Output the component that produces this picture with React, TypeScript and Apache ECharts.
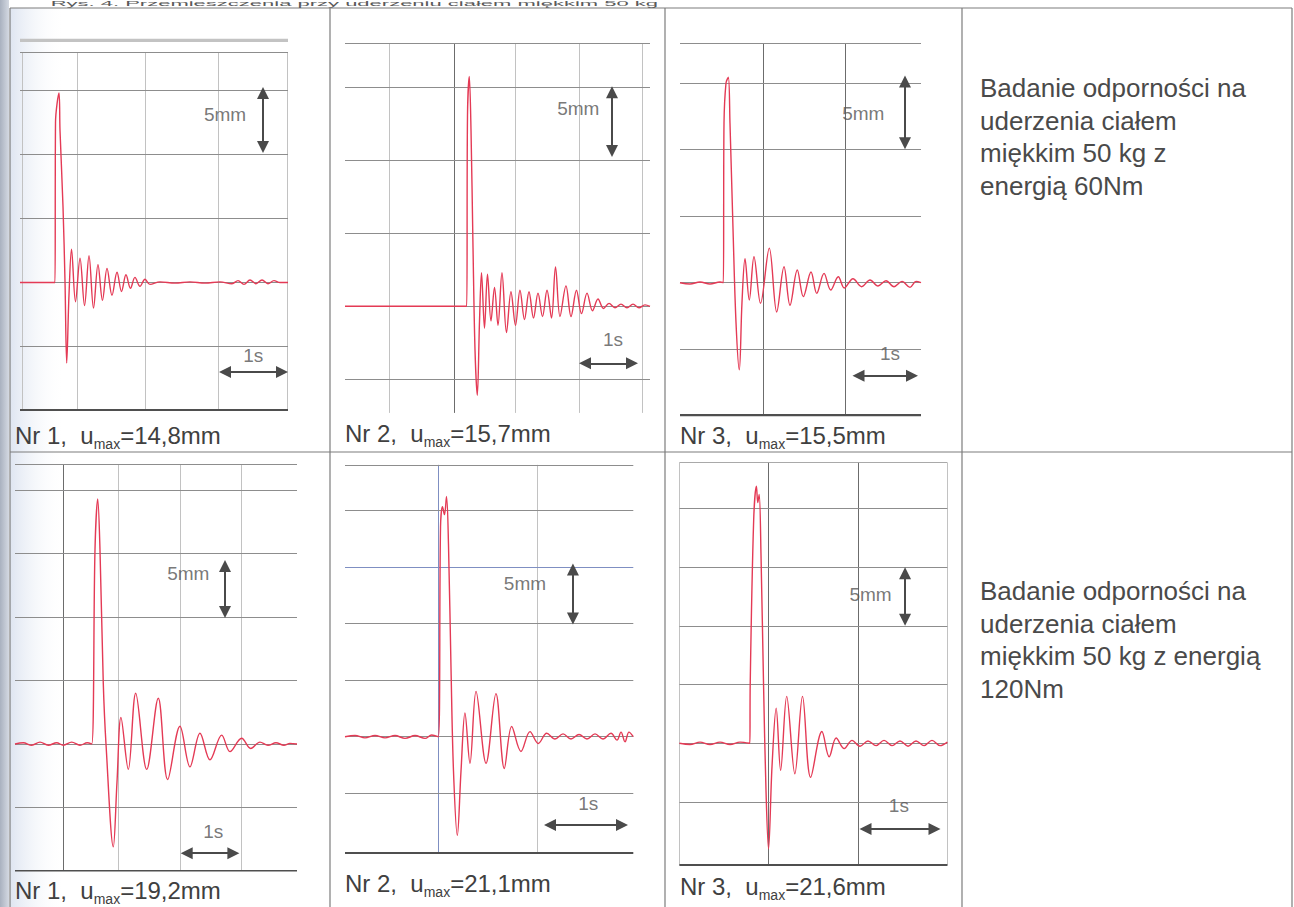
import React, { useEffect, useRef } from 'react';
import * as echarts from 'echarts';

type Pair = [number, number];

const FONT = '"Liberation Sans", Arial, sans-serif';

// ---------- texts ----------
const TITLE = 'Rys. 4. Przemieszczenia przy uderzeniu ciałem miękkim 50 kg';
const TEST_NO = ['Nr 1,', 'Nr 2,', 'Nr 3,', 'Nr 1,', 'Nr 2,', 'Nr 3,'];
const UMAX_MM = ['14,8', '15,7', '15,5', '19,2', '21,1', '21,6'];
const DESC_60 = ['Badanie odporności na', 'uderzenia ciałem', 'miękkim 50 kg z', 'energią 60Nm'];
const DESC_120 = ['Badanie odporności na', 'uderzenia ciałem', 'miękkim 50 kg z energią', '120Nm'];
const SCALE_LABELS = ['5mm', '1s'];

// ---------- traces: [time s, displacement mm] ----------
const trace1: Pair[] = [
  [0, 0], [0.522, 0], [0.53, 12.5], [0.582, 14.8], [0.597, 11.9], [0.642, 5.9], [0.672, 0], [0.697, -6.3],
  [0.731, -1.0], [0.769, 2.6], [0.828, -1.5], [0.896, 1.9], [0.963, -1.8], [1.03, 2.1], [1.097, -2.0],
  [1.164, 1.4], [1.231, -1.4], [1.299, 1.1], [1.373, -1.0], [1.448, 0.8], [1.515, -0.7], [1.582, 0.6],
  [1.649, -0.45], [1.716, 0.4], [1.791, -0.3], [1.866, 0.25], [1.94, -0.15], [2.09, 0.05], [2.313, -0.05],
  [2.537, 0.05], [2.761, -0.05], [2.985, 0.05], [3.164, -0.1], [3.254, 0.15], [3.343, -0.15], [3.433, 0.2],
  [3.522, -0.1], [3.612, 0.2], [3.701, -0.1], [3.791, 0.15], [3.881, 0], [4.0, 0],
];
const trace2: Pair[] = [
  [0, 0], [2.135, 0], [2.149, 13], [2.181, 15.75], [2.211, 12], [2.246, 4], [2.281, -3], [2.321, -6.1],
  [2.36, -1], [2.395, 2.3], [2.447, -1.5], [2.5, 2.2], [2.561, -1.0], [2.623, 1.3], [2.684, -1.3], [2.754, 2.3],
  [2.833, -1.8], [2.912, 1.0], [2.991, -1.3], [3.07, 1.1], [3.149, -0.9], [3.228, 1.0], [3.307, -0.8],
  [3.386, 0.9], [3.465, -0.7], [3.544, 1.1], [3.623, -0.8], [3.693, 2.7], [3.772, -0.7], [3.877, 1.4],
  [3.965, -0.7], [4.061, 1.1], [4.149, -0.5], [4.246, 0.9], [4.342, -0.3], [4.439, 0.5], [4.535, -0.15],
  [4.632, 0.2], [4.737, -0.1], [4.842, 0.15], [4.947, -0.1], [5.053, 0.15], [5.158, -0.1], [5.263, 0.1], [5.351, 0],
];
const trace3: Pair[] = [
  [0, 0], [0.157, -0.1], [0.315, 0.05], [0.472, -0.1], [0.63, 0.05], [0.682, 0], [0.693, 12], [0.724, 15.0],
  [0.761, 15.45], [0.787, 12], [0.835, 4], [0.882, -3], [0.934, -6.55], [0.976, -1.5], [1.024, 1.8],
  [1.091, -1.3], [1.165, 1.95], [1.268, -1.55], [1.406, 2.6], [1.523, -2.2], [1.638, 1.2], [1.732, -1.7],
  [1.847, 0.95], [1.942, -1.05], [2.063, 0.8], [2.153, -0.8], [2.268, 0.7], [2.373, -0.55], [2.493, 0.45],
  [2.587, -0.4], [2.724, 0.3], [2.861, -0.3], [2.992, 0.2], [3.118, -0.25], [3.244, 0.15], [3.37, -0.3],
  [3.496, 0.1], [3.622, -0.35], [3.717, 0.1], [3.795, 0],
];
const trace4: Pair[] = [
  [0, 0], [0.146, 0.1], [0.295, -0.1], [0.441, 0.15], [0.587, -0.1], [0.735, 0.1], [0.852, -0.1], [1.0, 0.15],
  [1.146, -0.1], [1.275, 0.1], [1.353, 0], [1.411, 15.3], [1.459, 19.3], [1.499, 15.3], [1.557, 4.8],
  [1.605, 0], [1.734, -8.1], [1.799, -3], [1.869, 2.1], [1.998, -2.0], [2.129, 4.0], [2.323, -2.0],
  [2.527, 3.6], [2.693, -2.8], [2.91, 1.4], [3.086, -1.8], [3.263, 0.85], [3.439, -1.25], [3.646, 0.7],
  [3.792, -0.6], [3.998, 0.45], [4.157, -0.35], [4.321, 0.15], [4.462, -0.1], [4.603, 0.1], [4.744, -0.1],
  [4.85, 0.05], [4.974, 0],
];
const trace5: Pair[] = [
  [0, 0], [0.122, 0.1], [0.244, -0.1], [0.366, 0.1], [0.488, -0.1], [0.61, 0.1], [0.732, -0.15], [0.854, 0.1],
  [0.976, -0.15], [1.057, 0.15], [1.138, 0], [1.165, 18.5], [1.189, 20.3], [1.213, 19.6], [1.238, 21.2],
  [1.262, 17], [1.293, 6], [1.323, -3], [1.37, -8.7], [1.415, -3], [1.463, 2.1], [1.524, -2.35], [1.598, 4.0],
  [1.72, -2.35], [1.841, 3.8], [1.943, -2.8], [2.033, 0.9], [2.146, -1.3], [2.256, 0.45], [2.357, -0.6],
  [2.46, 0.3], [2.561, -0.2], [2.659, 0.25], [2.756, -0.2], [2.854, 0.2], [2.951, -0.2], [3.049, 0.25],
  [3.146, -0.2], [3.244, 0.3], [3.317, -0.3], [3.366, 0.4], [3.415, -0.45], [3.463, 0.4], [3.516, 0],
];
const trace6: Pair[] = [
  [0, 0], [0.134, -0.1], [0.261, 0.1], [0.387, -0.1], [0.514, 0.1], [0.641, -0.1], [0.767, 0.1], [0.892, 0],
  [0.896, 4.9], [0.94, 19], [0.975, 21.9], [0.992, 20.5], [1.01, 21.2], [1.033, 16], [1.065, 5], [1.096, -4],
  [1.128, -9.0], [1.172, -2], [1.225, 3.0], [1.281, -2.3], [1.358, 4.0], [1.461, -2.6], [1.558, 4.0],
  [1.661, -2.9], [1.804, 1.0], [1.896, -1.15], [1.984, 0.45], [2.086, -0.45], [2.185, 0.25], [2.286, -0.25],
  [2.387, 0.2], [2.489, -0.2], [2.59, 0.25], [2.692, -0.2], [2.792, 0.2], [2.894, -0.25], [2.995, 0.2],
  [3.096, -0.2], [3.197, 0.25], [3.299, -0.2], [3.392, 0.1],
];

// ---------- axis extents ----------
const xMax = [4.0, 5.351, 3.795, 4.974, 3.516, 3.392];
const yMin = [-10, -7.3, -10, -10, -10.3, -10.4];
const yMax = [19, 18, 18, 22, 24, 23.9];

// ---------- grid lines (mm / s) ----------
const hLines1 = [18, 15, 10, 5, 0, -5];
const hLines2 = [18, 15, 10, 5, 0, -5];
const hLines3 = [18, 15, 10, 5, 0, -5];
const hLines4 = [22, 20, 15, 10, 5, 0, -5];
const hLines5 = [24, 20, 15, 10, 5, 0, -5];
const hLines6 = [23.9, 20, 15, 10, 5, 0, -5];
const vLines1 = [0.03, 0.85, 1.87, 2.96, 3.99];
const vLines2 = [0.772, 1.912, 2.982, 4.105, 5.211];
const vLines3 = [1.307, 2.609];
const vLines4 = [0.852, 1.822, 2.91, 3.998];
const vLines5 = [1.138, 2.345];
const vLines6 = [0, 1.128, 2.266, 3.392];
const darkV = [[], [1.912], [1.307, 2.609], [0.852], [1.138], [1.128, 2.266]];
const blueH = [[], [], [], [], [15], []];
const hasBaseAxis = [true, false, true, true, true, true];

// ---------- scale markers: 5mm [t, yFrom, yTo], 1s [y, tFrom, tTo] ----------
const mmBar: [number, number, number][] = [
  [3.627, 15.2, 10.2], [4.684, 15.0, 10.3], [3.543, 15.5, 10.1],
  [3.704, 14.4, 10.0], [2.78, 15.2, 10.0], [2.856, 14.9, 10.1],
];
const secBar: [number, number, number][] = [
  [-7.0, 2.985, 3.985], [-3.9, 4.123, 5.123], [-7.0, 2.732, 3.732],
  [-8.6, 2.94, 3.94], [-7.8, 2.439, 3.439], [-7.3, 2.292, 3.292],
];
const mmLabelAt: Pair[] = [[3.06, 13.1], [4.093, 13.56], [2.887, 12.7], [3.056, 13.4], [2.195, 13.5], [2.419, 12.7]];
const secLabelAt: Pair[] = [[3.48, -5.7], [4.702, -2.3], [3.307, -5.3], [3.497, -6.9], [2.967, -5.9], [2.778, -5.3]];

const TRACES = [trace1, trace2, trace3, trace4, trace5, trace6];
const HLINES = [hLines1, hLines2, hLines3, hLines4, hLines5, hLines6];
const VLINES = [vLines1, vLines2, vLines3, vLines4, vLines5, vLines6];

// ---------- layout (pixels) ----------
const BOXES = [
  { left: 20, top: 39.3, width: 268, height: 371.2 },
  { left: 345, top: 43.5, width: 305, height: 369.4 },
  { left: 680, top: 43.3, width: 241, height: 372.4 },
  { left: 15, top: 464.6, width: 282, height: 406.4 },
  { left: 345, top: 464.8, width: 288.3, height: 388.6 },
  { left: 679.4, top: 462.7, width: 268, height: 402.7 },
];
const CAPTION_POS: Pair[] = [[15, 435], [345, 433], [680, 435], [15, 890], [345, 883], [680, 886]];

const RED = '#e43a55';
const GRID_COL = '#8d8d8d';
const VGRID_COL = '#c2c2c2';
const DARK_COL = '#6c6c6c';
const BLUE_COL = '#7f8fc2';
const ARROW_COL = '#4a4a4a';
const TEXT_COL = '#404040';
const BORDER = '#7c7c7c';

function buildOption() {
  const grids: any[] = [];
  const xAxes: any[] = [];
  const yAxes: any[] = [];
  const series: any[] = [];

  TRACES.forEach((trace, i) => {
    const box = BOXES[i];
    const x0 = 0;
    const x1 = xMax[i];
    const y0 = yMin[i];
    const y1 = yMax[i];
    grids.push({ ...box, containLabel: false });
    xAxes.push({ type: 'value', gridIndex: i, min: x0, max: x1, show: false });
    yAxes.push({ type: 'value', gridIndex: i, min: y0, max: y1, show: false });

    const hTop = Math.max(...HLINES[i]);
    const gridData: any[] = [];
    VLINES[i].forEach((t) => {
      const dark = darkV[i].includes(t);
      gridData.push({
        coords: [[t, y0], [t, hTop]],
        lineStyle: { color: dark ? (i === 4 ? BLUE_COL : DARK_COL) : VGRID_COL, width: 1 },
      });
    });
    HLINES[i].forEach((y) => {
      gridData.push({
        coords: [[x0, y], [x1, y]],
        lineStyle: { color: blueH[i].includes(y) ? BLUE_COL : GRID_COL, width: 1 },
      });
    });
    if (i === 0) {
      gridData.push({ coords: [[x0, y1], [x1, y1]], lineStyle: { color: '#c3c3c3', width: 4 } });
    }
    if (hasBaseAxis[i]) {
      gridData.push({ coords: [[x0, y0], [x1, y0]], lineStyle: { color: '#4f4f4f', width: 3 } });
    }
    series.push({
      type: 'lines',
      coordinateSystem: 'cartesian2d',
      xAxisIndex: i,
      yAxisIndex: i,
      silent: true,
      z: 1,
      lineStyle: { opacity: 1, width: 1, color: GRID_COL },
      data: gridData,
    });

    series.push({
      type: 'line',
      xAxisIndex: i,
      yAxisIndex: i,
      data: trace,
      showSymbol: false,
      symbol: 'none',
      smooth: 0.35,
      silent: true,
      z: 3,
      lineStyle: { color: RED, width: 1.4 },
    });

    // scale arrows; ends inset so the arrow tips land on the measured points
    const pxPerY = box.height / (y1 - y0);
    const pxPerX = box.width / (x1 - x0);
    const insetY = 5 / pxPerY;
    const insetX = 5 / pxPerX;
    const [mt, ma, mb] = mmBar[i];
    const [sy, sa, sb] = secBar[i];
    series.push({
      type: 'lines',
      coordinateSystem: 'cartesian2d',
      xAxisIndex: i,
      yAxisIndex: i,
      silent: true,
      z: 4,
      symbol: ['triangle', 'triangle'],
      symbolSize: 12,
      lineStyle: { opacity: 1, width: 2, color: ARROW_COL },
      data: [
        { coords: [[mt, ma - insetY], [mt, mb + insetY]] },
        { coords: [[sa + insetX, sy], [sb - insetX, sy]] },
      ],
    });

    series.push({
      type: 'scatter',
      xAxisIndex: i,
      yAxisIndex: i,
      silent: true,
      z: 5,
      symbolSize: 0,
      itemStyle: { color: 'rgba(0,0,0,0)' },
      label: {
        show: true,
        position: 'inside',
        formatter: '{b}',
        color: '#555555',
        fontFamily: FONT,
        fontSize: 19,
      },
      data: [
        { name: SCALE_LABELS[0], value: mmLabelAt[i] },
        { name: SCALE_LABELS[1], value: secLabelAt[i] },
      ],
    });
  });

  const line = (x1: number, y1: number, x2: number, y2: number) => ({
    type: 'line',
    silent: true,
    z: 10,
    shape: { x1, y1, x2, y2 },
    style: { stroke: BORDER, lineWidth: 1.2 },
  });

  const graphic: any[] = [
    {
      type: 'rect',
      silent: true,
      z: 0,
      shape: { x: 0, y: 0, width: 9, height: 907 },
      style: {
        fill: new echarts.graphic.LinearGradient(0, 0, 1, 0, [
          { offset: 0, color: '#a9b1bf' },
          { offset: 1, color: '#d4d9e2' },
        ]),
      },
    },
    {
      type: 'rect',
      silent: true,
      z: 0,
      shape: { x: 10, y: 8, width: 55, height: 899 },
      style: {
        fill: new echarts.graphic.LinearGradient(0, 0, 1, 0, [
          { offset: 0, color: 'rgba(196,208,230,0.55)' },
          { offset: 1, color: 'rgba(255,255,255,0)' },
        ]),
      },
    },
    line(10, 8, 1292, 8),
    line(10, 8, 10, 907),
    line(1292, 8, 1292, 907),
    line(10, 452, 1292, 452),
    line(330, 8, 330, 907),
    line(665, 8, 665, 907),
    line(962, 8, 962, 907),
    {
      // caption above the table, squeezed into the thin band above the border
      type: 'text',
      silent: true,
      z: 11,
      x: 658,
      y: 0,
      scaleY: 0.34,
      style: {
        text: TITLE,
        fontFamily: FONT,
        fontSize: 22,
        fill: '#5a5a5a',
        align: 'right',
        verticalAlign: 'top',
      },
    },
    {
      type: 'text',
      silent: true,
      z: 11,
      x: 980,
      y: 72,
      style: {
        text: DESC_60.join('\n'),
        fontFamily: FONT,
        fontSize: 26,
        lineHeight: 32.5,
        fill: '#4a4a4a',
        align: 'left',
        verticalAlign: 'top',
      },
    },
    {
      type: 'text',
      silent: true,
      z: 11,
      x: 980,
      y: 575,
      style: {
        text: DESC_120.join('\n'),
        fontFamily: FONT,
        fontSize: 26,
        lineHeight: 32.5,
        fill: '#4a4a4a',
        align: 'left',
        verticalAlign: 'top',
      },
    },
  ];

  CAPTION_POS.forEach(([cx, cy], i) => {
    graphic.push({
      type: 'text',
      silent: true,
      z: 11,
      x: cx,
      y: cy,
      style: {
        text: `{a|${TEST_NO[i]}  u}{b|max}{a|=${UMAX_MM[i]}mm}`,
        align: 'left',
        verticalAlign: 'middle',
        rich: {
          a: { fontFamily: FONT, fontSize: 24, fill: TEXT_COL, lineHeight: 32, verticalAlign: 'middle' },
          b: { fontFamily: FONT, fontSize: 14, fill: TEXT_COL, lineHeight: 14, verticalAlign: 'bottom' },
        },
      },
    });
  });

  return {
    animation: false,
    backgroundColor: '#ffffff',
    grid: grids,
    xAxis: xAxes,
    yAxis: yAxes,
    series,
    graphic,
  };
}

export default function App() {
  const ref = useRef<HTMLDivElement>(null);
  useEffect(() => {
    if (!ref.current) return;
    const chart = echarts.init(ref.current, undefined, { renderer: 'svg' });
    chart.setOption(buildOption() as any);
    return () => chart.dispose();
  }, []);
  return (
    <div
      ref={ref}
      style={{ position: 'fixed', left: 0, top: 0, width: 1294, height: 907, background: '#fff' }}
    />
  );
}
